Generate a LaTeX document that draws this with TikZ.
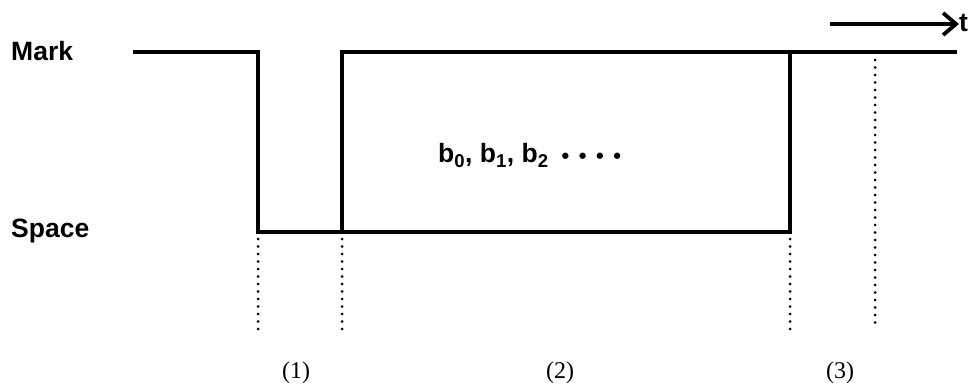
\documentclass[tikz,border=0pt]{standalone}
\usepackage{fontspec}
\setmainfont{Liberation Sans}
\newfontfamily\periodfont{Liberation Serif}
\usetikzlibrary{arrows.meta}

\begin{document}
\begin{tikzpicture}[
		x=1pt, y=-1pt,
		level/.style={
			font=\bfseries\fontsize{26.5}{30}\selectfont,
			anchor=base west,
			inner sep=0pt
		},
		period/.style={font=\periodfont\fontsize{24}{28}\selectfont, inner sep=0pt},
		signal/.style={line width=3.6pt, line join=miter},
		boundary/.style={line width=3pt, dash pattern=on 0pt off 7.5pt, line cap=round},
		timearrow/.style={-{Straight Barb[length=13pt, width=22pt, line width=3.8pt]}, line width=3.8pt}
		]
		
		\useasboundingbox (0,0) rectangle (973,390);
		
		% levels
		\node[level] (mark) at (11,61) {Mark};
		\node[level] (space) at (11,237) {Space};
		
		% waveform corners
		\coordinate (start) at (133,52);
		\coordinate (fallA) at (258,52);
		\coordinate (lowA) at (258,232);
		\coordinate (lowB) at (342,232);
		\coordinate (highB) at (342,52);
		\coordinate (lowC) at (790,232);
		\coordinate (highC) at (790,52);
		\coordinate (stop) at (957,52);
		
		\draw[signal] (start) -- (fallA) -- (lowA) -- (lowC) -- (highC);
		\draw[signal] (lowB) -- (highB) -- (stop);
		
		% period boundaries
		\coordinate (endA) at (258,330);
		\coordinate (endB) at (342,330);
		\coordinate (endC) at (790,330);
		\coordinate (topD) at (875,60);
		\coordinate (endD) at (875,330);
		
		\draw[boundary] ([yshift=8pt]lowA) -- (endA);
		\draw[boundary] ([yshift=8pt]lowB) -- (endB);
		\draw[boundary] ([yshift=8pt]lowC) -- (endC);
		\draw[boundary] (topD) -- (endD);
		
		% data bits
		\node[level] (bits) at (438,163) {b\textsubscript{0}, b\textsubscript{1}, b\textsubscript{2}\hspace{13pt}{\fontsize{22}{22}\selectfont\raisebox{-1pt}{•\hspace{9.5pt}•\hspace{9.5pt}•\hspace{9.5pt}•}}};
		
		% time axis
		\coordinate (tstart) at (830,24);
		\node[level] (time) at (959,32) {t};
		\draw[timearrow] (tstart) -- (time.west |- tstart);
		
		% periods
		\node[period] (p1) at (296,373) {(1)};
		\node[period] (p2) at (560,373) {(2)};
		\node[period] (p3) at (840,373) {(3)};
		
	\end{tikzpicture}
\end{document}
